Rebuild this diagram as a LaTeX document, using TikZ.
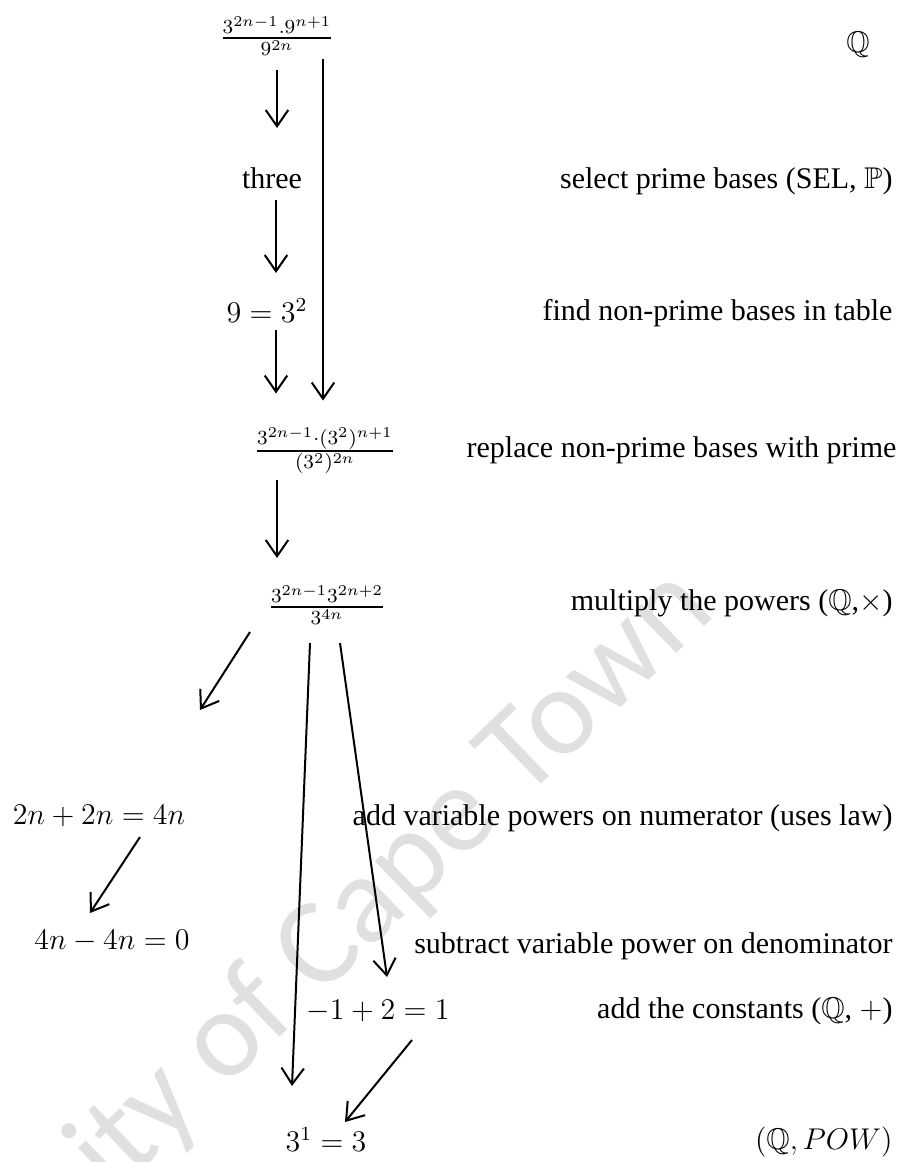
\documentclass[tikz,border=0pt]{standalone}
\usepackage{fontspec}
\usepackage{amssymb}
\setmainfont{Liberation Serif}
\newfontfamily\wmfont{Carlito}
\usetikzlibrary{arrows.meta,calc}
\begin{document}
\begin{tikzpicture}[x=0.4pt,y=-0.4pt,
    font=\fontsize{12}{14}\selectfont,
    every node/.style={inner sep=0pt,anchor=base},
    lbl/.style={anchor=base east},
    arr/.style={line width=0.8pt,-{Straight Barb[length=6.5pt,width=9pt]}}]
\useasboundingbox (0,0) rectangle (909,1162);
\node[font=\wmfont\fontsize{50}{50}\selectfont,text=black!12,rotate=44,anchor=center] (wm) at (255,1015) {University of Cape Town};
% steps on the left
\node (frac1) at (277,45.5) {$\frac{3^{2n-1}.9^{n+1}}{9^{2n}}$};
\node (three) at (272,188) {three};
\node (nine) at (267,322) {$9=3^2$};
\node (frac2) at (325,458.5) {$\frac{3^{2n-1}{\cdot}(3^2)^{n+1}}{(3^2)^{2n}}$};
\node (frac3) at (327,614.5) {$\frac{3^{2n-1}3^{2n+2}}{3^{4n}}$};
\node (sumvar) at (99,824) {$2n+2n=4n$};
\node (diffvar) at (112,949) {$4n-4n=0$};
\node (consts) at (378,1019) {$-1+2=1$};
\node (result) at (326,1151) {$3^1=3$};
\coordinate (ltip) at (200,710);
% what each step does
\node (qq) at (858,52) {$\mathbb{Q}$};
\node[lbl] (select) at (893,188) {select prime bases (SEL, $\mathbb{P}$)};
\node[lbl] (find) at (893,320) {find non-prime bases in table};
\node[lbl] (replace) at (897,457) {replace non-prime bases with prime};
\node[lbl] (multiply) at (893,610) {multiply the powers ($\mathbb{Q}$,$\times$)};
\node[lbl] (addvar) at (893,825) {add variable powers on numerator (uses law)};
\node[lbl] (subtract) at (893,953) {subtract variable power on denominator};
\node[lbl] (addconst) at (893,1018) {add the constants ($\mathbb{Q}$, $+$)};
\node[lbl] (pow) at (893,1149) {$(\mathbb{Q}, POW)$};
% arrows
\draw[arr] ($(frac1.base)+(0,24.5)$) -- ($(three.base)+(5,-60)$);
\draw[arr] ($(three.base)+(4,12)$) -- ($(nine.base)+(9,-49)$);
\draw[arr] ($(nine.base)+(9,8)$) -- ($(frac2.base)+(-49,-65)$);
\draw[arr] ($(frac1.base)+(46,13.5)$) -- ($(frac2.base)+(-2,-58)$);
\draw[arr] ($(frac2.base)+(-48,21.5)$) -- ($(frac3.base)+(-50,-56.5)$);
\draw[arr] ($(frac3.base)+(-77,17.5)$) -- (ltip);
\draw[arr] ($(frac3.base)+(-17,28.5)$) -- ($(result.base)+(-34,-65)$);
\draw[arr] ($(frac3.base)+(13,28.5)$) -- ($(consts.base)+(9,-42)$);
\draw[arr] ($(sumvar.base)+(41,13)$) -- ($(diffvar.base)+(-22,-36)$);
\draw[arr] ($(consts.base)+(34,21)$) -- ($(result.base)+(19,-29)$);
\end{tikzpicture}
\end{document}
